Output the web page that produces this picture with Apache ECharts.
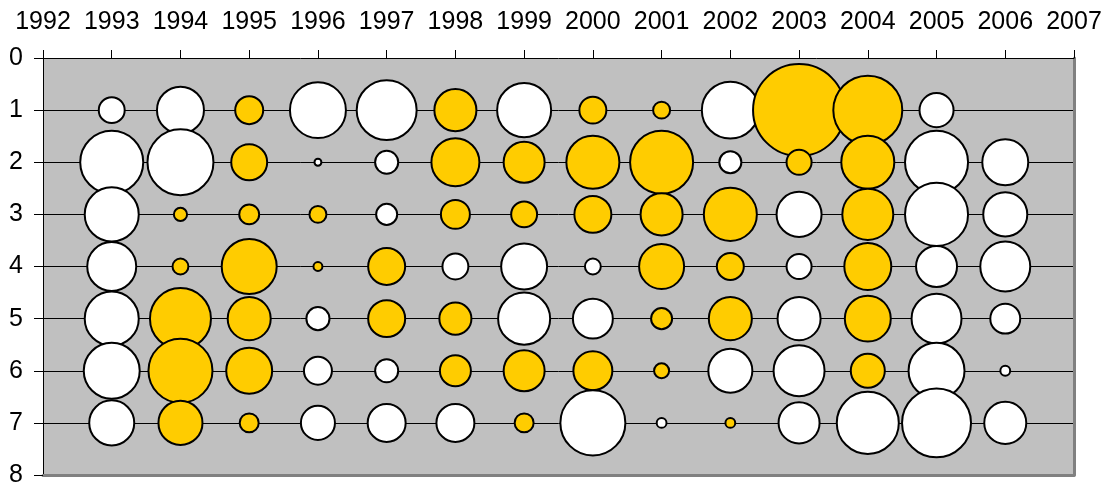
<!DOCTYPE html>
<html>
<head>
<meta charset="utf-8">
<script src="https://cdn.jsdelivr.net/npm/echarts@6/dist/echarts.min.js"></script>
<style>
html,body{margin:0;padding:0;background:#fff;}
#chart{width:1119px;height:490px;}
</style>
</head>
<body>
<div id="chart"></div>
<script>
// X categories (years) and Y rows
const years = [1993,1994,1995,1996,1997,1998,1999,2000,2001,2002,2003,2004,2005,2006];
const rows = [1,2,3,4,5,6,7];
const xTicks = [1992,1993,1994,1995,1996,1997,1998,1999,2000,2001,2002,2003,2004,2005,2006,2007];
const yTicks = [0,1,2,3,4,5,6,7,8];

// Bubble sizes (area values) per year, rows 1..7 (null = no bubble)
const size1993 = [78,423,314,260,314,336,221];
const size1994 = [240,462,23,32,397,436,212];
const size1995 = [90,144,48,325,203,230,44];
const size1996 = [336,8,36,12,63,90,130];
const size1997 = [384,63,53,152,152,63,160];
const size1998 = [194,250,96,78,116,109,160];
const size1999 = [314,185,78,230,292,185,44];
const size2000 = [84,303,152,32,176,168,449];
const size2001 = [36,423,194,221,53,29,14];
const size2002 = [348,58,303,84,203,212,14];
const size2003 = [884,73,221,73,203,281,185];
const size2004 = [504,303,281,240,230,130,410];
const size2005 = [130,423,423,185,270,336,504];
const size2006 = [null,230,212,270,102,14,194];
const sizesByYear = [size1993,size1994,size1995,size1996,size1997,size1998,size1999,
                     size2000,size2001,size2002,size2003,size2004,size2005,size2006];

// Highlight flags (1 = gold, 0 = white) per year, rows 1..7
const gold1993 = [0,0,0,0,0,0,0];
const gold1994 = [0,0,1,1,1,1,1];
const gold1995 = [1,1,1,1,1,1,1];
const gold1996 = [0,0,1,1,0,0,0];
const gold1997 = [0,0,0,1,1,0,0];
const gold1998 = [1,1,1,0,1,1,0];
const gold1999 = [0,1,1,0,0,1,1];
const gold2000 = [1,1,1,0,0,1,0];
const gold2001 = [1,1,1,1,1,1,0];
const gold2002 = [0,0,1,1,1,0,1];
const gold2003 = [1,1,0,0,0,0,0];
const gold2004 = [1,1,1,1,1,1,0];
const gold2005 = [0,0,0,0,0,0,0];
const gold2006 = [0,0,0,0,0,0,0];
const goldByYear = [gold1993,gold1994,gold1995,gold1996,gold1997,gold1998,gold1999,
                    gold2000,gold2001,gold2002,gold2003,gold2004,gold2005,gold2006];

const GOLD = '#FFCC00', WHITE = '#FFFFFF';
const data = [];
years.forEach((yr, i) => {
  rows.forEach((r, j) => {
    const s = sizesByYear[i][j];
    if (s == null) return;
    data.push({
      value: [yr, r, s],
      itemStyle: { color: goldByYear[i][j] ? GOLD : WHITE }
    });
  });
});

const FONT = 'Liberation Sans, Arial, sans-serif';
const chart = echarts.init(document.getElementById('chart'), null, {renderer:'canvas'});
chart.setOption({
  animation: false,
  backgroundColor: '#ffffff',
  grid: {
    left: 43, right: 45, top: 58, bottom: 15,
    show: true, backgroundColor: '#C0C0C0', borderWidth: 0
  },
  xAxis: [{
    type: 'value', position: 'top',
    min: xTicks[0], max: xTicks[xTicks.length-1], interval: 1,
    axisLine: { show: true, onZero: false, lineStyle: { color: '#000', width: 1 } },
    axisTick: { show: true, inside: false, length: 8, lineStyle: { color: '#000', width: 1 } },
    axisLabel: { show: true, margin: 23, color: '#000', fontSize: 25, fontFamily: FONT,
                 formatter: v => String(v) },
    splitLine: { show: false }
  }, {
    type: 'value', position: 'bottom',
    min: xTicks[0], max: xTicks[xTicks.length-1], interval: 1,
    axisLine: { show: true, onZero: false, lineStyle: { color: '#808080', width: 3 } },
    axisTick: { show: false }, axisLabel: { show: false }, splitLine: { show: false }
  }],
  yAxis: [{
    type: 'value', inverse: true,
    min: yTicks[0], max: yTicks[yTicks.length-1], interval: 1,
    axisLine: { show: true, onZero: false, lineStyle: { color: '#000', width: 1 } },
    axisTick: { show: true, inside: false, length: 9, lineStyle: { color: '#000', width: 1 } },
    axisLabel: { show: true, margin: 20, color: '#000', fontSize: 25, fontFamily: FONT },
    splitLine: { show: true, showMinLine: false, showMaxLine: false,
                 lineStyle: { color: '#000', width: 1 } }
  }, {
    type: 'value', inverse: true, position: 'right',
    min: yTicks[0], max: yTicks[yTicks.length-1], interval: 1,
    axisLine: { show: true, onZero: false, lineStyle: { color: '#808080', width: 3 } },
    axisTick: { show: false }, axisLabel: { show: false }, splitLine: { show: false }
  }],
  series: [{
    type: 'scatter',
    xAxisIndex: 0, yAxisIndex: 0,
    symbol: 'circle',
    symbolSize: d => Math.sqrt(d[2] * 10) - 2,
    itemStyle: { borderColor: '#000', borderWidth: 2, opacity: 1 },
    emphasis: { disabled: true },
    data: data,
    z: 5
  }]
});
</script>
</body>
</html>
